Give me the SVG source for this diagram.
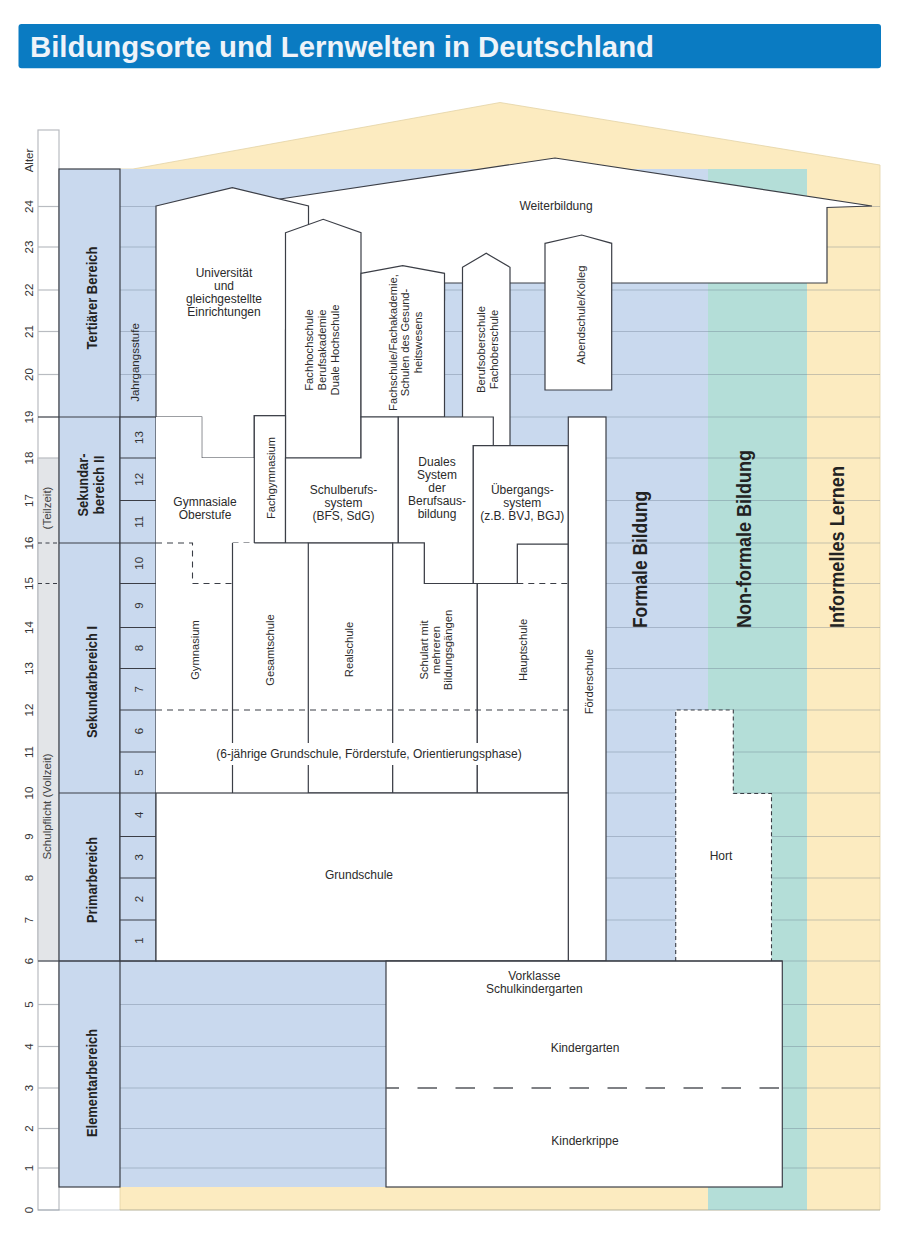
<svg xmlns="http://www.w3.org/2000/svg" width="900" height="1237" viewBox="0 0 900 1237">
<style>
.t{font-family:"Liberation Sans",Arial,sans-serif;font-size:12px;fill:#2b2b2b}
.r{font-size:11.2px}
.c{text-anchor:middle}
.b{font-weight:bold;fill:#222}
.box{fill:#fff;stroke:#3b3e46;stroke-width:1.2}
.wf{fill:#fff}
.ln{fill:none;stroke:#3b3e46;stroke-width:1.2}
.dash{fill:none;stroke:#3b3e46;stroke-width:1.1;stroke-dasharray:6 5}
.grid{stroke:#5a6a80;stroke-opacity:.32;stroke-width:1.2}
.tick{stroke:#b9bcc1;stroke-width:1.2}
.age{font-family:"Liberation Sans",Arial,sans-serif;font-size:11.5px;fill:#333;text-anchor:middle}
</style>

<g id="title">
<rect x="18.5" y="24" width="862.5" height="44.3" rx="3" fill="#0a7bc2"/>
<text x="30" y="57" font-family="Liberation Sans,Arial,sans-serif" font-weight="bold" font-size="30" fill="#eef3f9" textLength="624" lengthAdjust="spacingAndGlyphs">Bildungsorte und Lernwelten in Deutschland</text>
</g>

<g id="background">
<polygon points="133,169 500,102.5 880,165 880,1210 120,1210 120,169" fill="#fcebc0" stroke="#e3d3a6" stroke-width="0.8"/>
<rect x="708" y="169" width="99" height="1041" fill="#b4ded8"/>
<rect x="120" y="169" width="588" height="1018" fill="#c9d9ee"/>
<rect x="38" y="130" width="21" height="1080" fill="#fff" stroke="#b9bcc1" stroke-width="1.2"/>
<rect x="38" y="458" width="21" height="503" fill="#e3e5e8" stroke="#b9bcc1" stroke-width="1.2"/>
<g class="grid">
<line x1="38" y1="1210" x2="880" y2="1210"/>
<line x1="120" y1="1168" x2="880" y2="1168"/>
<line x1="120" y1="1128.5" x2="880" y2="1128.5"/>
<line x1="120" y1="1088" x2="880" y2="1088"/>
<line x1="120" y1="1046.5" x2="880" y2="1046.5"/>
<line x1="120" y1="1004.5" x2="880" y2="1004.5"/>
<line x1="120" y1="961" x2="880" y2="961"/>
<line x1="120" y1="920" x2="880" y2="920"/>
<line x1="120" y1="878" x2="880" y2="878"/>
<line x1="120" y1="836.5" x2="880" y2="836.5"/>
<line x1="120" y1="793" x2="880" y2="793"/>
<line x1="120" y1="752" x2="880" y2="752"/>
<line x1="120" y1="710" x2="880" y2="710"/>
<line x1="120" y1="668.5" x2="880" y2="668.5"/>
<line x1="120" y1="627.5" x2="880" y2="627.5"/>
<line x1="120" y1="583.5" x2="880" y2="583.5"/>
<line x1="120" y1="543" x2="880" y2="543"/>
<line x1="120" y1="500.5" x2="880" y2="500.5"/>
<line x1="120" y1="458" x2="880" y2="458"/>
<line x1="120" y1="417" x2="880" y2="417"/>
<line x1="120" y1="374.5" x2="880" y2="374.5"/>
<line x1="120" y1="331.5" x2="880" y2="331.5"/>
<line x1="120" y1="290" x2="880" y2="290"/>
<line x1="120" y1="247" x2="880" y2="247"/>
<line x1="120" y1="206.5" x2="880" y2="206.5"/>
</g>
<g class="tick">
<line x1="38" y1="1168" x2="59" y2="1168"/>
<line x1="38" y1="1128.5" x2="59" y2="1128.5"/>
<line x1="38" y1="1088" x2="59" y2="1088"/>
<line x1="38" y1="1046.5" x2="59" y2="1046.5"/>
<line x1="38" y1="1004.5" x2="59" y2="1004.5"/>
<line x1="38" y1="374.5" x2="59" y2="374.5"/>
<line x1="38" y1="331.5" x2="59" y2="331.5"/>
<line x1="38" y1="290" x2="59" y2="290"/>
<line x1="38" y1="247" x2="59" y2="247"/>
<line x1="38" y1="206.5" x2="59" y2="206.5"/>
</g>
<path d="M38,543 H59 M38,583.5 H59" fill="none" stroke="#3b3e46" stroke-width="1.1" stroke-dasharray="4 3.5"/>
<path d="M38,417 H59" class="ln"/>
</g>

<g id="age-axis">
<text class="age" transform="translate(0,160.5) rotate(-90)" x="0" y="33.3">Alter</text>
<g transform="rotate(-90)">
<text class="age" x="-1210" y="33.3">0</text>
<text class="age" x="-1168" y="33.3">1</text>
<text class="age" x="-1128.5" y="33.3">2</text>
<text class="age" x="-1088" y="33.3">3</text>
<text class="age" x="-1046.5" y="33.3">4</text>
<text class="age" x="-1004.5" y="33.3">5</text>
<text class="age" x="-961" y="33.3">6</text>
<text class="age" x="-920" y="33.3">7</text>
<text class="age" x="-878" y="33.3">8</text>
<text class="age" x="-836.5" y="33.3">9</text>
<text class="age" x="-793" y="33.3">10</text>
<text class="age" x="-752" y="33.3">11</text>
<text class="age" x="-710" y="33.3">12</text>
<text class="age" x="-668.5" y="33.3">13</text>
<text class="age" x="-627.5" y="33.3">14</text>
<text class="age" x="-583.5" y="33.3">15</text>
<text class="age" x="-543" y="33.3">16</text>
<text class="age" x="-500.5" y="33.3">17</text>
<text class="age" x="-458" y="33.3">18</text>
<text class="age" x="-417" y="33.3">19</text>
<text class="age" x="-374.5" y="33.3">20</text>
<text class="age" x="-331.5" y="33.3">21</text>
<text class="age" x="-290" y="33.3">22</text>
<text class="age" x="-247" y="33.3">23</text>
<text class="age" x="-206.5" y="33.3">24</text>
</g>
<text class="t c" transform="translate(0,806.5) rotate(-90)" x="0" y="50.5" style="font-size:11.5px;fill:#444">Schulpflicht (Vollzeit)</text>
<text class="t c" transform="translate(0,508) rotate(-90)" x="0" y="51" style="font-size:11.5px;fill:#444">(Teilzeit)</text>
</g>

<g id="bereiche">
<rect x="59" y="169" width="61" height="1018" fill="#c9d9ee" stroke="#3b3e46" stroke-width="1.2"/>
<path class="ln" d="M59,417 H120 M59,543 H120 M59,793 H120 M59,961 H120"/>
<text class="t b c" transform="translate(0,298) rotate(-90)" x="0" y="97" style="font-size:15px" textLength="103" lengthAdjust="spacingAndGlyphs">Tertiärer Bereich</text>
<text class="t b c" transform="translate(0,485) rotate(-90)" style="font-size:15px"><tspan x="0" y="88" textLength="63" lengthAdjust="spacingAndGlyphs">Sekundar-</tspan><tspan x="0" y="104" textLength="59" lengthAdjust="spacingAndGlyphs">bereich II</tspan></text>
<text class="t b c" transform="translate(0,682) rotate(-90)" x="0" y="97" style="font-size:15px" textLength="112" lengthAdjust="spacingAndGlyphs">Sekundarbereich I</text>
<text class="t b c" transform="translate(0,880) rotate(-90)" x="0" y="97" style="font-size:15px" textLength="86" lengthAdjust="spacingAndGlyphs">Primarbereich</text>
<text class="t b c" transform="translate(0,1083) rotate(-90)" x="0" y="97" style="font-size:15px" textLength="108" lengthAdjust="spacingAndGlyphs">Elementarbereich</text>
</g>

<g id="jahrgangsstufe">
<rect x="120" y="417" width="36" height="544" fill="#c9d9ee" stroke="#3b3e46" stroke-width="1.2"/>
<path class="ln" d="M120,458 H156 M120,500.5 H156 M120,543 H156 M120,583.5 H156 M120,627.5 H156 M120,668.5 H156 M120,710 H156 M120,752 H156 M120,793 H156 M120,836.5 H156 M120,878 H156 M120,920 H156"/>
<text class="t c" transform="translate(0,362.5) rotate(-90)" x="0" y="139" style="font-size:11.5px">Jahrgangsstufe</text>
<g transform="rotate(-90)">
<text class="age" x="-437.5" y="142.7">13</text>
<text class="age" x="-479.3" y="142.7">12</text>
<text class="age" x="-521.8" y="142.7">11</text>
<text class="age" x="-563.3" y="142.7">10</text>
<text class="age" x="-605.5" y="142.7">9</text>
<text class="age" x="-648" y="142.7">8</text>
<text class="age" x="-689.3" y="142.7">7</text>
<text class="age" x="-731" y="142.7">6</text>
<text class="age" x="-772.5" y="142.7">5</text>
<text class="age" x="-814.8" y="142.7">4</text>
<text class="age" x="-857.3" y="142.7">3</text>
<text class="age" x="-899" y="142.7">2</text>
<text class="age" x="-940.5" y="142.7">1</text>
</g>
</g>

<g id="weiterbildung">
<polygon class="box" points="280,199 555,158 872,206 827,207.5 827,283 444.5,283 444.5,300 300,300"/>
<text class="t c" x="556" y="209.5">Weiterbildung</text>
</g>

<g id="universitaet">
<polygon class="box" points="156,206 232.3,187.7 308.5,206 308.5,330 285.5,330 285.5,415.7 254.3,415.7 254.3,458 201.7,458 201.7,417 156,417"/>
<text class="t c"><tspan x="224" y="276.5">Universität</tspan><tspan x="224" y="289.5">und</tspan><tspan x="224" y="302.5">gleichgestellte</tspan><tspan x="224" y="315.5">Einrichtungen</tspan></text>
</g>

<g id="fachhochschule">
<polygon class="box" points="285.5,232.7 323.2,219.3 361,232.7 361,458 285.5,458"/>
<text class="t r c" transform="translate(0,350) rotate(-90)"><tspan x="0" y="313.3">Fachhochschule</tspan><tspan x="0" y="326.3">Berufsakademie</tspan><tspan x="0" y="339.3">Duale Hochschule</tspan></text>
</g>

<g id="fachschule">
<polygon class="box" points="361,273.3 402.7,265.7 444.5,273.3 444.5,417 361,417"/>
<text class="t r c" transform="translate(0,342.5) rotate(-90)"><tspan x="0" y="396.5">Fachschule/Fachakademie,</tspan><tspan x="0" y="409">Schulen des Gesund-</tspan><tspan x="0" y="421.5">heitswesens</tspan></text>
</g>

<g id="berufsoberschule">
<polygon class="box" points="462.5,267.3 486.2,253.3 510,267.3 510,445.7 462.5,445.7"/>
<text class="t r c" transform="translate(0,349.5) rotate(-90)"><tspan x="0" y="485">Berufsoberschule</tspan><tspan x="0" y="498.3">Fachoberschule</tspan></text>
</g>

<g id="abendschule">
<polygon class="box" points="545,243.3 581.7,235 611.7,243.3 611.7,390 545,390"/>
<text class="t r c" transform="translate(0,315) rotate(-90)" x="0" y="584.5">Abendschule/Kolleg</text>
</g>

<g id="gymnasium">
<polygon class="wf" points="156,417 201.7,417 201.7,458 254.3,458 254.3,543 232.5,543 232.5,793 156,793"/>
<path class="dash" d="M156,543 H192.5 V583.5 H232.5 M232.5,543 H254.3"/>
<text class="t c"><tspan x="205" y="505.5">Gymnasiale</tspan><tspan x="205" y="518.5">Oberstufe</tspan></text>
<text class="t r c" transform="translate(0,650) rotate(-90)" x="0" y="198.5">Gymnasium</text>
</g>

<g id="fachgymnasium">
<rect class="box" x="254.3" y="415.7" width="31.2" height="127.3"/>
<text class="t r c" transform="translate(0,478) rotate(-90)" x="0" y="274.5">Fachgymnasium</text>
</g>

<g id="schulberufssystem">
<polygon class="box" points="285.5,458 361,458 361,417 398.3,417 398.3,543 285.5,543"/>
<text class="t c"><tspan x="343.5" y="493.5">Schulberufs-</tspan><tspan x="343.5" y="506.5">system</tspan><tspan x="343.5" y="519.5">(BFS, SdG)</tspan></text>
</g>

<g id="duales-system">
<polygon class="box" points="398.3,417 493.3,417 493.3,445.7 473.3,445.7 473.3,583.5 424.3,583.5 424.3,543 398.3,543"/>
<text class="t c"><tspan x="437" y="465.5">Duales</tspan><tspan x="437" y="478.5">System</tspan><tspan x="437" y="491.5">der</tspan><tspan x="437" y="504.5">Berufsaus-</tspan><tspan x="437" y="517.5">bildung</tspan></text>
</g>

<g id="gesamtschule">
<rect class="wf" x="232.5" y="543" width="75.8" height="250"/>
<path class="ln" d="M232.5,543 V793 M254.3,543 H308.3"/>
<text class="t r c" transform="translate(0,650) rotate(-90)" x="0" y="274.3">Gesamtschule</text>
</g>

<g id="realschule">
<rect class="box" x="308.3" y="543" width="84.4" height="250"/>
<text class="t r c" transform="translate(0,649.5) rotate(-90)" x="0" y="353.3">Realschule</text>
</g>

<g id="schulart-mehrere-bildungsgaenge">
<polygon class="box" points="392.7,543 424.3,543 424.3,583.5 477.3,583.5 477.3,793 392.7,793"/>
<text class="t r c" transform="translate(0,650) rotate(-90)"><tspan x="0" y="428.3">Schulart mit</tspan><tspan x="0" y="440.3">mehreren</tspan><tspan x="0" y="452.3">Bildungsgängen</tspan></text>
</g>

<g id="hauptschule">
<polygon class="box" points="477.3,583.5 517.3,583.5 517.3,544 568.3,544 568.3,793 477.3,793"/>
<path class="dash" d="M517.3,583.5 H568.3"/>
<text class="t r c" transform="translate(0,650) rotate(-90)" x="0" y="527">Hauptschule</text>
</g>

<g id="uebergangssystem">
<polygon class="box" points="473.3,445.7 568.3,445.7 568.3,544 517.3,544 517.3,583.5 473.3,583.5"/>
<text class="t c"><tspan x="522.3" y="493.5">Übergangs-</tspan><tspan x="522.3" y="506.5">system</tspan><tspan x="522.3" y="519.5">(z.B. BVJ, BGJ)</tspan></text>
</g>

<g id="orientierungsstufe">
<path class="dash" d="M156,710 H568.3"/>
<rect x="217" y="743" width="305" height="22" fill="#fff"/>
<text class="t c" x="369" y="758.3">(6-jährige Grundschule, Förderstufe, Orientierungsphase)</text>
</g>

<g id="foerderschule">
<rect class="box" x="568.3" y="417" width="37.7" height="544"/>
<text class="t r c" transform="translate(0,681.7) rotate(-90)" x="0" y="593">Förderschule</text>
</g>

<g id="grundschule">
<rect class="box" x="156" y="793" width="412.3" height="168"/>
<text class="t c" x="359" y="879.3">Grundschule</text>
</g>

<g id="hort">
<polygon class="wf" points="675.7,961 675.7,710 733.3,710 733.3,793.5 771.5,793.5 771.5,961"/>
<polyline points="675.7,961 675.7,710 733.3,710 733.3,793.5 771.5,793.5 771.5,961" fill="none" stroke="#3b3e46" stroke-width="1.1" stroke-dasharray="4 3"/>
<text class="t c" x="721" y="860">Hort</text>
</g>

<g id="elementarbereich-einrichtungen">
<rect class="box" x="386" y="961" width="396.3" height="226"/>
<path d="M386,1088 H782.3" fill="none" stroke="#55585e" stroke-width="1.3" stroke-dasharray="19.5 18.5" stroke-dashoffset="6.5"/>
<text class="t c"><tspan x="534.3" y="980">Vorklasse</tspan><tspan x="534.3" y="993.3">Schulkindergarten</tspan></text>
<text class="t c" x="585" y="1051.5">Kindergarten</text>
<text class="t c" x="585" y="1145">Kinderkrippe</text>
</g>

<g id="bildungsbereiche">
<text class="t b" transform="translate(0,628) rotate(-90)" x="0" y="646.5" style="font-size:19.5px" textLength="137" lengthAdjust="spacingAndGlyphs">Formale Bildung</text>
<text class="t b" transform="translate(0,628) rotate(-90)" x="0" y="750.5" style="font-size:19.5px" textLength="178" lengthAdjust="spacingAndGlyphs">Non-formale Bildung</text>
<text class="t b" transform="translate(0,628) rotate(-90)" x="0" y="844" style="font-size:19.5px" textLength="162" lengthAdjust="spacingAndGlyphs">Informelles Lernen</text>
</g>

<g id="connectors">
<path class="ln" d="M38,961 H782.3"/>
</g>
</svg>
